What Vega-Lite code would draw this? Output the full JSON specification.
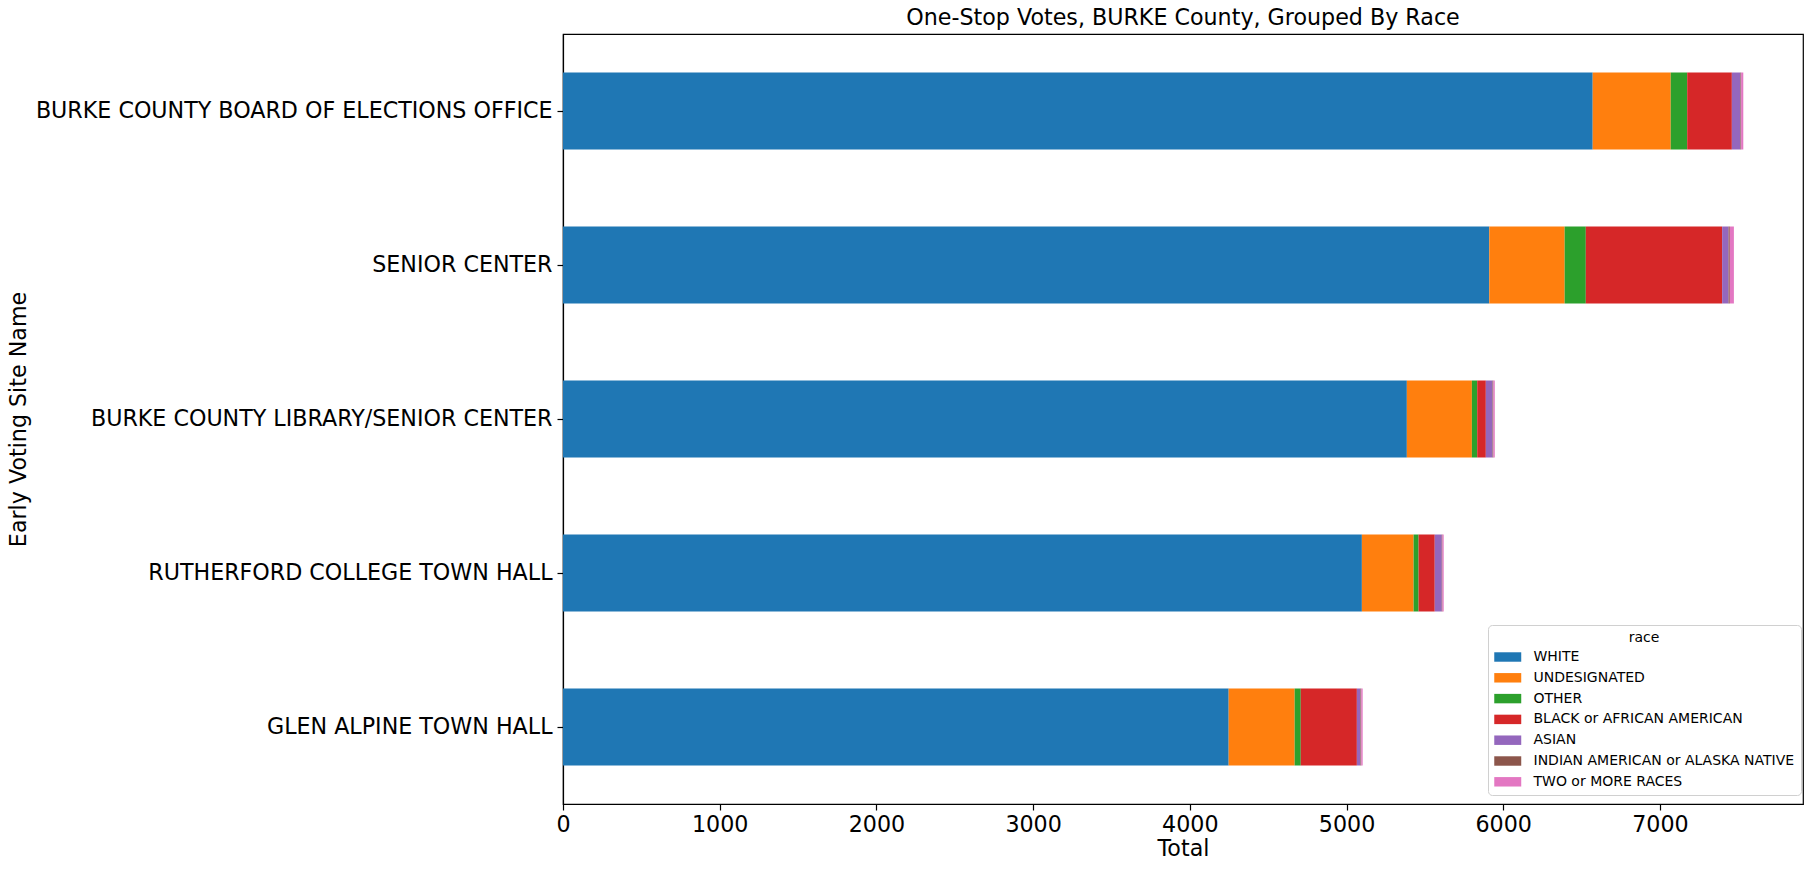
{
  "$schema": "https://vega.github.io/schema/vega-lite/v6.json",
  "autosize": {"type": "none"},
  "padding": {"left": 563, "top": 34, "right": 9, "bottom": 65},
  "width": 1240,
  "height": 770,
  "background": "white",
  "config": {
    "font": "DejaVu Sans",
    "view": {"stroke": "black", "strokeWidth": 1.2},
    "axis": {"grid": false, "domainColor": "black", "tickColor": "black", "labelColor": "black", "titleColor": "black", "labelFont": "DejaVu Sans", "titleFont": "DejaVu Sans", "titleFontWeight": "normal", "domainWidth": 1.2, "tickWidth": 1.2}
  },
  "title": {"text": "One-Stop Votes, BURKE County, Grouped By Race", "fontSize": 22.2, "fontWeight": "normal", "font": "DejaVu Sans", "color": "black", "offset": 5},
  "data": {"values": [
    {"site": "BURKE COUNTY BOARD OF ELECTIONS OFFICE", "race": "WHITE", "votes": 6571},
    {"site": "BURKE COUNTY BOARD OF ELECTIONS OFFICE", "race": "UNDESIGNATED", "votes": 498},
    {"site": "BURKE COUNTY BOARD OF ELECTIONS OFFICE", "race": "OTHER", "votes": 105},
    {"site": "BURKE COUNTY BOARD OF ELECTIONS OFFICE", "race": "BLACK or AFRICAN AMERICAN", "votes": 285},
    {"site": "BURKE COUNTY BOARD OF ELECTIONS OFFICE", "race": "ASIAN", "votes": 55},
    {"site": "BURKE COUNTY BOARD OF ELECTIONS OFFICE", "race": "INDIAN AMERICAN or ALASKA NATIVE", "votes": 4},
    {"site": "BURKE COUNTY BOARD OF ELECTIONS OFFICE", "race": "TWO or MORE RACES", "votes": 14},
    {"site": "SENIOR CENTER", "race": "WHITE", "votes": 5911},
    {"site": "SENIOR CENTER", "race": "UNDESIGNATED", "votes": 481},
    {"site": "SENIOR CENTER", "race": "OTHER", "votes": 135},
    {"site": "SENIOR CENTER", "race": "BLACK or AFRICAN AMERICAN", "votes": 870},
    {"site": "SENIOR CENTER", "race": "ASIAN", "votes": 41},
    {"site": "SENIOR CENTER", "race": "INDIAN AMERICAN or ALASKA NATIVE", "votes": 8},
    {"site": "SENIOR CENTER", "race": "TWO or MORE RACES", "votes": 26},
    {"site": "BURKE COUNTY LIBRARY/SENIOR CENTER", "race": "WHITE", "votes": 5385},
    {"site": "BURKE COUNTY LIBRARY/SENIOR CENTER", "race": "UNDESIGNATED", "votes": 415},
    {"site": "BURKE COUNTY LIBRARY/SENIOR CENTER", "race": "OTHER", "votes": 34},
    {"site": "BURKE COUNTY LIBRARY/SENIOR CENTER", "race": "BLACK or AFRICAN AMERICAN", "votes": 55},
    {"site": "BURKE COUNTY LIBRARY/SENIOR CENTER", "race": "ASIAN", "votes": 43},
    {"site": "BURKE COUNTY LIBRARY/SENIOR CENTER", "race": "INDIAN AMERICAN or ALASKA NATIVE", "votes": 5},
    {"site": "BURKE COUNTY LIBRARY/SENIOR CENTER", "race": "TWO or MORE RACES", "votes": 9},
    {"site": "RUTHERFORD COLLEGE TOWN HALL", "race": "WHITE", "votes": 5098},
    {"site": "RUTHERFORD COLLEGE TOWN HALL", "race": "UNDESIGNATED", "votes": 330},
    {"site": "RUTHERFORD COLLEGE TOWN HALL", "race": "OTHER", "votes": 32},
    {"site": "RUTHERFORD COLLEGE TOWN HALL", "race": "BLACK or AFRICAN AMERICAN", "votes": 103},
    {"site": "RUTHERFORD COLLEGE TOWN HALL", "race": "ASIAN", "votes": 45},
    {"site": "RUTHERFORD COLLEGE TOWN HALL", "race": "INDIAN AMERICAN or ALASKA NATIVE", "votes": 4},
    {"site": "RUTHERFORD COLLEGE TOWN HALL", "race": "TWO or MORE RACES", "votes": 8},
    {"site": "GLEN ALPINE TOWN HALL", "race": "WHITE", "votes": 4248},
    {"site": "GLEN ALPINE TOWN HALL", "race": "UNDESIGNATED", "votes": 421},
    {"site": "GLEN ALPINE TOWN HALL", "race": "OTHER", "votes": 39},
    {"site": "GLEN ALPINE TOWN HALL", "race": "BLACK or AFRICAN AMERICAN", "votes": 358},
    {"site": "GLEN ALPINE TOWN HALL", "race": "ASIAN", "votes": 23},
    {"site": "GLEN ALPINE TOWN HALL", "race": "INDIAN AMERICAN or ALASKA NATIVE", "votes": 5},
    {"site": "GLEN ALPINE TOWN HALL", "race": "TWO or MORE RACES", "votes": 9}
  ]},
  "transform": [
    {"calculate": "indexof(['WHITE', 'UNDESIGNATED', 'OTHER', 'BLACK or AFRICAN AMERICAN', 'ASIAN', 'INDIAN AMERICAN or ALASKA NATIVE', 'TWO or MORE RACES'], datum.race)", "as": "stack_rank"}
  ],
  "mark": {"type": "bar"},
  "encoding": {
    "y": {
      "field": "site", "type": "nominal",
      "sort": ["BURKE COUNTY BOARD OF ELECTIONS OFFICE", "SENIOR CENTER", "BURKE COUNTY LIBRARY/SENIOR CENTER", "RUTHERFORD COLLEGE TOWN HALL", "GLEN ALPINE TOWN HALL"],
      "scale": {"paddingInner": 0.5, "paddingOuter": 0.25},
      "axis": {"title": "Early Voting Site Name", "labelFontSize": 22.2, "titleFontSize": 22.2, "tickSize": 6, "labelPadding": 5, "labelLimit": 0, "titleX": -545, "titleY": 385, "titleBaseline": "middle", "titleAngle": -90}
    },
    "x": {
      "field": "votes", "type": "quantitative", "stack": "zero",
      "scale": {"domain": [0, 7913], "nice": false, "zero": true},
      "axis": {"title": "Total", "values": [0, 1000, 2000, 3000, 4000, 5000, 6000, 7000], "format": "d", "labelFontSize": 22.2, "titleFontSize": 22.2, "tickSize": 6, "labelPadding": 3, "titleY": 44, "titleBaseline": "middle", "labelFlush": false}
    },
    "color": {
      "field": "race", "type": "nominal",
      "sort": ["WHITE", "UNDESIGNATED", "OTHER", "BLACK or AFRICAN AMERICAN", "ASIAN", "INDIAN AMERICAN or ALASKA NATIVE", "TWO or MORE RACES"],
      "scale": {
        "domain": ["WHITE", "UNDESIGNATED", "OTHER", "BLACK or AFRICAN AMERICAN", "ASIAN", "INDIAN AMERICAN or ALASKA NATIVE", "TWO or MORE RACES"],
        "range": ["#1f77b4", "#ff7f0e", "#2ca02c", "#d62728", "#9467bd", "#8c564b", "#e377c2"]
      },
      "legend": {
        "title": "race", "orient": "none", "legendX": 925, "legendY": 591,
        "titleFontSize": 14, "titleFontWeight": "normal", "titleAnchor": "middle", "titleColor": "black", "titlePadding": 5,
        "labelFontSize": 14, "labelColor": "black", "labelLimit": 0,
        "symbolType": "M-1,-0.7L3,-0.7L3,0.7L-1,0.7Z", "symbolSize": 182, "symbolStrokeWidth": 0,
        "rowPadding": 6.8, "strokeColor": "#d0d0d0", "cornerRadius": 4, "padding": 6, "fillColor": "white", "labelOffset": 25.5
      }
    },
    "order": {"field": "stack_rank", "type": "quantitative", "sort": "ascending"}
  }
}
